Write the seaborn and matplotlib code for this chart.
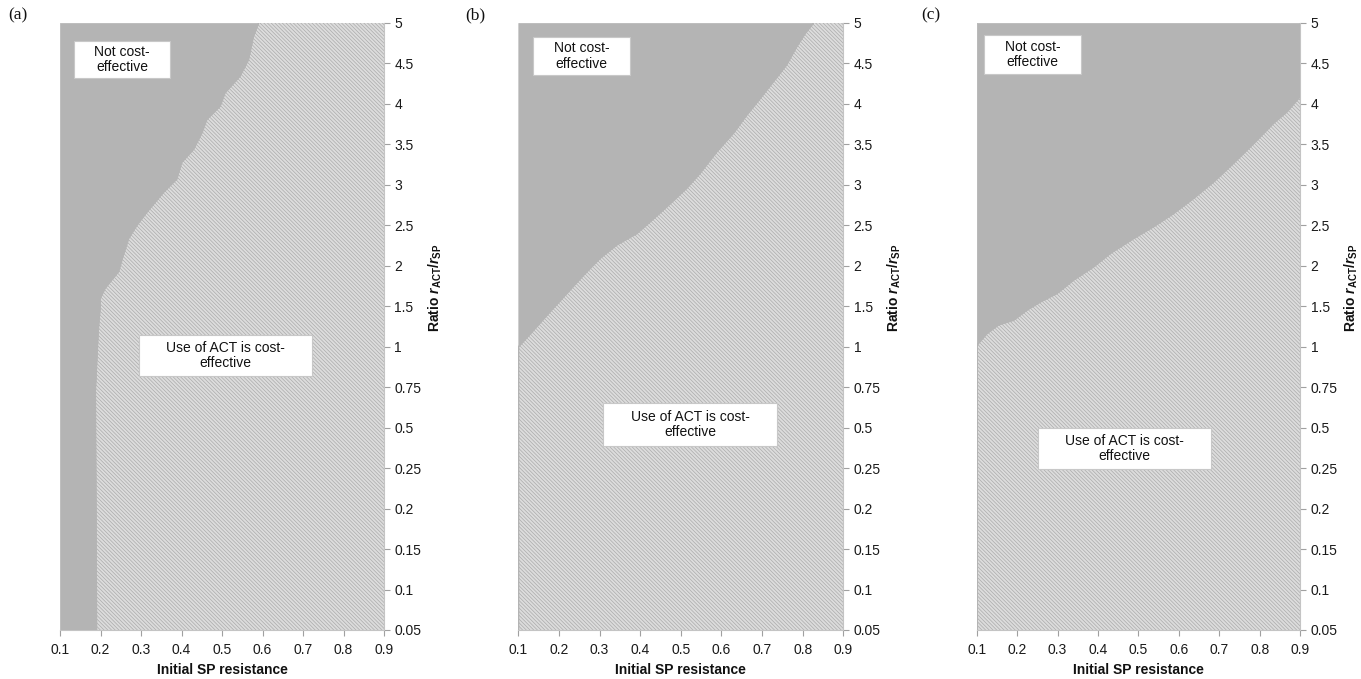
import numpy as np
import matplotlib
matplotlib.use("Agg")
import matplotlib.pyplot as plt
import seaborn as sns
from matplotlib.patches import Rectangle

sns.set_theme(style="white")
plt.rcParams["font.family"] = ["Liberation Sans", "DejaVu Sans"]
plt.rcParams["mathtext.fontset"] = "custom"
plt.rcParams["mathtext.rm"] = "Liberation Sans"
plt.rcParams["mathtext.it"] = "Liberation Sans:italic"
plt.rcParams["mathtext.bf"] = "Liberation Sans:bold"
plt.rcParams["mathtext.bfit"] = "Liberation Sans:bold:italic"
plt.rcParams["hatch.linewidth"] = 0.5

# ---- data ----
ratio_levels = [0.05, 0.1, 0.15, 0.2, 0.25, 0.5, 0.75, 1, 1.5, 2, 2.5, 3, 3.5, 4, 4.5, 5]
resistance_ticks = [0.1, 0.2, 0.3, 0.4, 0.5, 0.6, 0.7, 0.8, 0.9]
panel_labels = ["(a)", "(b)", "(c)"]
label_not = "Not cost-\neffective"
label_use = "Use of ACT is cost-\neffective"

# boundary between "not cost-effective" (left/top) and "cost-effective" (right/bottom)
a_resistance = [0.190, 0.187, 0.194, 0.199, 0.199, 0.211, 0.244, 0.256, 0.269, 0.289, 0.314,
                0.355, 0.388, 0.400, 0.429, 0.450, 0.462, 0.495, 0.507, 0.544, 0.565, 0.577, 0.590]
a_ratio = [0.05, 0.73, 1.2, 1.5, 1.6, 1.725, 1.93, 2.135, 2.34, 2.5, 2.665,
           2.91, 3.075, 3.28, 3.44, 3.645, 3.81, 3.975, 4.14, 4.345, 4.55, 4.835, 5.0]

b_resistance = [0.1, 0.1, 0.137, 0.178, 0.219, 0.260, 0.301, 0.342, 0.391, 0.424, 0.465, 0.514,
                0.547, 0.588, 0.629, 0.662, 0.695, 0.728, 0.760, 0.785, 0.806, 0.826]
b_ratio = [0.05, 1.0, 1.205, 1.435, 1.66, 1.885, 2.095, 2.26, 2.40, 2.545, 2.73, 2.96,
           3.145, 3.41, 3.64, 3.865, 4.07, 4.28, 4.485, 4.71, 4.875, 5.0]

c_resistance = [0.1, 0.1, 0.125, 0.153, 0.191, 0.224, 0.257, 0.298, 0.339, 0.389, 0.430, 0.488,
                0.537, 0.587, 0.636, 0.686, 0.735, 0.785, 0.834, 0.867, 0.9, 0.9]
c_ratio = [0.05, 1.02, 1.165, 1.27, 1.33, 1.455, 1.555, 1.66, 1.825, 1.99, 2.155, 2.34,
           2.485, 2.65, 2.835, 3.04, 3.27, 3.515, 3.765, 3.905, 4.095, 5.0]

boundaries = [(a_resistance, a_ratio), (b_resistance, b_ratio), (c_resistance, c_ratio)]

# ---- layout (label boxes: x range in data, y range in category position) ----
not_boxes = [(0.135, 0.372, 13.64, 14.55), (0.136, 0.375, 13.71, 14.65), (0.118, 0.358, 13.74, 14.70)]
use_boxes = [(0.295, 0.722, 6.28, 7.29), (0.309, 0.737, 4.55, 5.61), (0.252, 0.680, 3.98, 4.99)]
axes_rects = [[60 / 1361, 0.0722, 324 / 1361, 0.894],
              [518.3 / 1361, 0.0722, 325 / 1361, 0.894],
              [976.7 / 1361, 0.0722, 323.5 / 1361, 0.894]]
panel_label_x = [8 / 1361, 465 / 1361, 921 / 1361]

GRAY = "#b4b4b4"
HATCH_FACE = "#dcdcdc"
HATCH_LINE = "#ababab"

fig = plt.figure(figsize=(13.61, 6.79), dpi=100)
pos_levels = np.arange(len(ratio_levels))

for i, (res, rat) in enumerate(boundaries):
    ax = fig.add_axes(axes_rects[i])
    pos = np.interp(rat, ratio_levels, pos_levels)
    res = np.asarray(res)
    # cost-effective (hatched)
    ax.fill_betweenx(pos, res, 0.9, facecolor=HATCH_FACE, edgecolor=HATCH_LINE,
                     hatch="\\" * 9, linewidth=0)
    # not cost-effective (solid gray)
    ax.fill_betweenx(pos, 0.1, res, facecolor=GRAY, edgecolor=GRAY, linewidth=0.5)
    sns.lineplot(x=res, y=pos, orient="y", sort=False, estimator=None,
                 color=GRAY, linewidth=0.8, ax=ax)

    for (x0, x1, y0, y1), txt in ((not_boxes[i], label_not), (use_boxes[i], label_use)):
        ax.add_patch(Rectangle((x0, y0), x1 - x0, y1 - y0, facecolor="white",
                               edgecolor="#c8c8c8", linewidth=0.8, zorder=5))
        ax.text((x0 + x1) / 2, (y0 + y1) / 2, txt, ha="center", va="center",
                fontsize=10, color="#111111", zorder=6, linespacing=1.15)

    ax.set_xlim(0.1, 0.9)
    ax.set_ylim(0, len(ratio_levels) - 1)
    ax.set_xticks(resistance_ticks)
    ax.set_xticklabels([f"{v:g}" for v in resistance_ticks])
    ax.set_yticks(pos_levels)
    ax.set_yticklabels([f"{v:g}" for v in ratio_levels])
    ax.yaxis.tick_right()
    ax.tick_params(axis="both", which="major", direction="out", length=4, width=0.8,
                   color="#a0a0a0", labelsize=10, labelcolor="#1a1a1a")
    ax.tick_params(axis="x", pad=5.5, bottom=True)
    ax.tick_params(axis="y", pad=3.5, right=True, left=False)
    for side in ("top", "left"):
        ax.spines[side].set_visible(False)
    for side in ("right", "bottom"):
        ax.spines[side].set_color("#c4c4c4")
        ax.spines[side].set_linewidth(0.8)

    ax.set_xlabel("Initial SP resistance", fontsize=10, fontweight="bold",
                  color="#111111", labelpad=4)
    ax.set_ylabel("")
    ax.text(1.157, 0.563,
            r"Ratio $\mathbfit{r}_{\mathbf{ACT}}$/$\mathbfit{r}_{\mathbf{SP}}$",
            transform=ax.transAxes, rotation=90, ha="center", va="center",
            fontsize=10, fontweight="bold", color="#111111")

    fig.text(panel_label_x[i], 1 - 15 / 679, panel_labels[i], ha="left", va="center",
             fontsize=12.5, family=["Liberation Serif", "DejaVu Serif"], color="#111111")

fig.savefig("out.png", dpi=100)
